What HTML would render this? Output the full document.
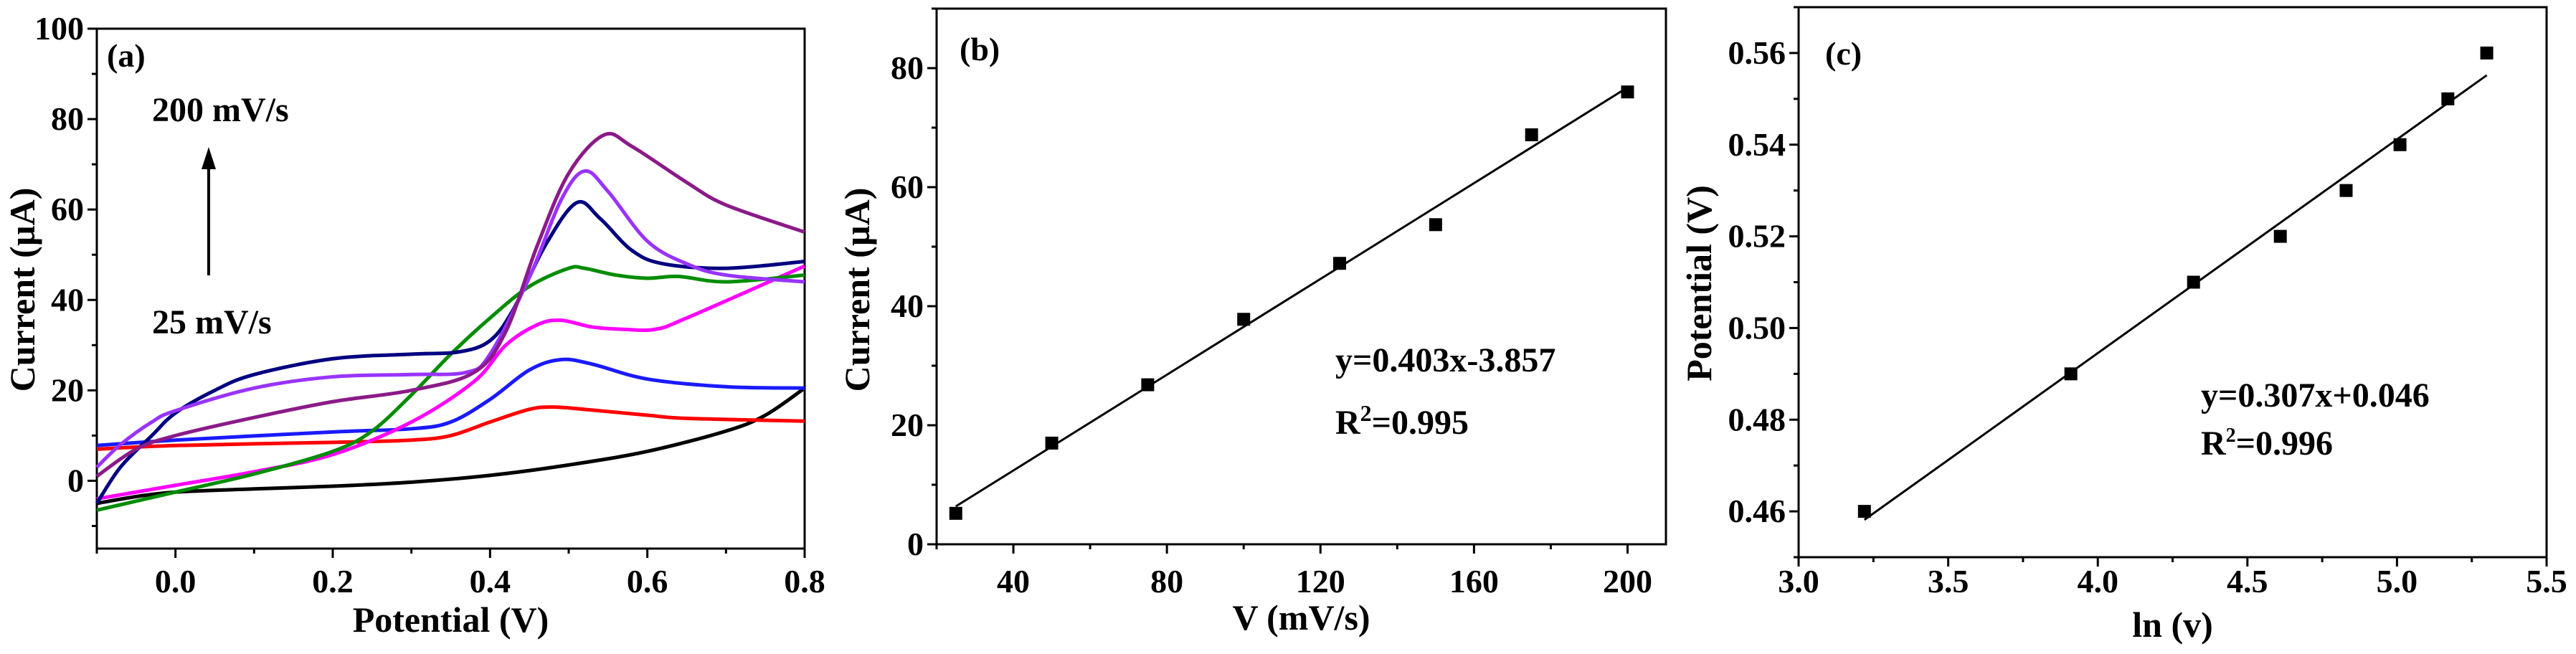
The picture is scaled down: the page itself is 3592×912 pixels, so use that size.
<!DOCTYPE html>
<html><head><meta charset="utf-8"><style>
html,body{margin:0;padding:0;background:#fff}
svg{display:block}
text{font-family:"Liberation Serif",serif;font-weight:bold;fill:#000}
</style></head><body>
<svg id="fig" width="3592" height="912" viewBox="0 0 3592 912" xmlns="http://www.w3.org/2000/svg"></svg>
<script>
// ---- Panel (a) data: cyclic voltammograms [potential V, current uA]
const cvBlack=[[-0.1,-5],[-0.05,-3.5],[0,-2.5],[0.1,-1.8],[0.2,-1.2],[0.3,-0.3],[0.4,1.2],[0.5,3.5],[0.6,6.5],[0.7,11],[0.75,14.5],[0.8,20.5]];
const cvRed=[[-0.1,7],[0,7.8],[0.2,8.5],[0.3,9],[0.35,10],[0.4,13],[0.45,15.8],[0.48,16.3],[0.52,15.8],[0.6,14.5],[0.65,13.8],[0.8,13.2]];
const cvBlue=[[-0.1,7.8],[0,9],[0.2,10.8],[0.3,11.5],[0.35,13],[0.4,18],[0.45,24.5],[0.49,26.8],[0.53,25.8],[0.6,22.5],[0.7,20.8],[0.8,20.5]];
const cvMagenta=[[-0.1,-4],[0,-1],[0.1,2],[0.2,5.8],[0.3,13],[0.38,22],[0.42,30],[0.46,34.5],[0.49,35.5],[0.53,34],[0.57,33.5],[0.61,33.5],[0.65,36],[0.8,47.5]];
const cvGreen=[[-0.1,-6.5],[0,-2.5],[0.1,1.5],[0.2,6.5],[0.25,11],[0.3,19],[0.35,28],[0.4,36],[0.45,43],[0.5,47],[0.52,47],[0.56,45.5],[0.6,44.8],[0.64,45.2],[0.7,44],[0.8,45.5]];
const cvNavy=[[-0.1,-5],[-0.07,3],[-0.03,10],[0,15],[0.05,20],[0.1,23.5],[0.2,27],[0.3,28],[0.36,28.5],[0.4,31],[0.43,38],[0.47,52],[0.51,61.5],[0.54,58],[0.58,51],[0.62,48],[0.7,47],[0.8,48.5]];
const cvViolet=[[-0.1,3],[-0.07,8],[-0.03,13],[0,15.5],[0.1,20.5],[0.2,23],[0.3,23.5],[0.37,24],[0.4,28],[0.45,45],[0.49,62],[0.52,68.5],[0.55,64],[0.6,53],[0.65,48],[0.7,45.5],[0.8,44]];
const cvPurple=[[-0.1,1],[-0.05,7],[0,10],[0.1,14],[0.2,17.5],[0.3,20],[0.38,24],[0.42,33],[0.46,52],[0.5,68],[0.545,76.5],[0.58,74],[0.65,66],[0.7,61],[0.8,55]];
const aXTicks=[0.0,0.2,0.4,0.6,0.8];
const aYTicks=[0,20,40,60,80,100];
// ---- Panel (b) data
const bScanRate=[25,50,75,100,125,150,175,200];
const bCurrent=[5.2,17,26.8,37.8,47.2,53.7,68.8,76];
const bXTicks=[40,80,120,160,200];
const bYTicks=[0,20,40,60,80];
// ---- Panel (c) data
const cLnV=[3.22,3.91,4.32,4.61,4.83,5.01,5.17,5.30];
const cPotential=[0.46,0.49,0.51,0.52,0.53,0.54,0.55,0.56];
const cXTicks=[3.0,3.5,4.0,4.5,5.0,5.5];
const cYTicks=[0.46,0.48,0.50,0.52,0.54,0.56];

const svg=document.getElementById('fig');
const NS='http://www.w3.org/2000/svg';
function mk(tag,attrs,parent){const e=document.createElementNS(NS,tag);for(const k in attrs)e.setAttribute(k,attrs[k]);(parent||svg).appendChild(e);return e;}
function txt(s,x,y,size,anchor,parent){const t=mk('text',{x:x,y:y,'font-size':size,'text-anchor':anchor||'start'},parent);t.textContent=s;return t;}
function scale(d0,d1,p0,p1){return v=>p0+(v-d0)*(p1-p0)/(d1-d0);}

function axes(name,L,R,T,B,X,Y,xt,yt,xMinor,yMinor,xMin,xMax,yMin,yMax,fmtX,fmtY){
  const g=mk('g',{});
  
  
  const fr=mk('rect',{x:L,y:T,width:R-L,height:B-T,fill:'none',stroke:'#000','stroke-width':3},g);
  
  
  for(let v=xMin;v<=xMax+1e-9;v+=xMinor){const x=X(v);const major=xt.some(t=>Math.abs(t-v)<1e-6);
    mk('line',{x1:x,y1:B,x2:x,y2:B+(major?13:7),stroke:'#000','stroke-width':3},g);}
  for(let v=yMin;v<=yMax+1e-9;v+=yMinor){const y=Y(v);const major=yt.some(t=>Math.abs(t-v)<1e-6);
    mk('line',{x1:L,y1:y,x2:L-(major?13:7),y2:y,stroke:'#000','stroke-width':3},g);}
  xt.forEach(v=>{const t=txt(fmtX(v),X(v),826,46,'middle',g);
    
    });
  yt.forEach(v=>{const t=txt(fmtY(v),L-18,Y(v)+15,46,'end',g);
    
    });
  return g;
}
function smooth(pts){let d='M'+pts[0][0]+','+pts[0][1];
  for(let i=0;i<pts.length-1;i++){const p0=pts[Math.max(0,i-1)],p1=pts[i],p2=pts[i+1],p3=pts[Math.min(pts.length-1,i+2)];
    const c1=[p1[0]+(p2[0]-p0[0])/6,p1[1]+(p2[1]-p0[1])/6],c2=[p2[0]-(p3[0]-p1[0])/6,p2[1]-(p3[1]-p1[1])/6];
    d+=' C'+c1[0]+','+c1[1]+' '+c2[0]+','+c2[1]+' '+p2[0]+','+p2[1];}
  return d;}
function fit(xs,ys){const n=xs.length;const mx=xs.reduce((a,b)=>a+b)/n,my=ys.reduce((a,b)=>a+b)/n;
  let sxy=0,sxx=0;for(let i=0;i<n;i++){sxy+=(xs[i]-mx)*(ys[i]-my);sxx+=(xs[i]-mx)**2;}const m=sxy/sxx;return [m,my-m*mx];}

// ===== Panel (a)
{const L=135,R=1122,T=40,B=765;const X=scale(-0.1,0.8,L,R),Y=scale(-15,100,B,T);
 axes('panel-a',L,R,T,B,X,Y,aXTicks,aYTicks,0.1,10,-0.1,0.8,-10,100,v=>v.toFixed(1),v=>String(v));
 const series=[[cvBlack,'#000000','cv-blank'],[cvRed,'#ff0000','cv-25'],[cvBlue,'#1a1aff','cv-50'],[cvMagenta,'#ff00ff','cv-75'],[cvGreen,'#008c00','cv-100'],[cvNavy,'#000080','cv-125'],[cvViolet,'#9933ff','cv-150'],[cvPurple,'#8b1a89','cv-200']];
 series.forEach(s=>{const p=mk('path',{d:smooth(s[0].map(q=>[X(q[0]),Y(q[1])])),fill:'none',stroke:s[1],'stroke-width':5});
   
   });
 let t=txt('(a)',149,93,46);
 t=txt('200 mV/s',212,169,48);
 t=txt('25 mV/s',212,465,48);
 let a=mk('line',{x1:291,y1:384,x2:291,y2:225,stroke:'#000','stroke-width':4});
 a=mk('polygon',{points:'291,205 281,236 301,236',fill:'#000'});
 t=txt('Potential (V)',(L+R)/2,881,50,'middle');
 t=txt('Current (µA)',0,0,50,'middle');t.setAttribute('transform','translate(48,404) rotate(-90)');
}
// ===== Panel (b)
{const L=1306,R=2323,T=12,B=759;const X=scale(20,210,L,R),Y=scale(0,90,B,T);
 axes('panel-b',L,R,T,B,X,Y,bXTicks,bYTicks,20,10,20,200,0,90,v=>String(v),v=>String(v));
 const [m,c]=fit(bScanRate,bCurrent);
 let l=mk('line',{x1:X(25),y1:Y(m*25+c),x2:X(200),y2:Y(m*200+c),stroke:'#000','stroke-width':3});
 bScanRate.forEach((v,i)=>{const r=mk('rect',{x:X(v)-9,y:Y(bCurrent[i])-9,width:18,height:18,fill:'#000'});
   
   });
 let t=txt('(b)',1338,84,46);
 t=txt('y=0.403x-3.857',1862,518,48);
 t=mk('text',{x:1862,y:605,'font-size':48});t.innerHTML='R<tspan dy="-18" font-size="32">2</tspan><tspan dy="18">=0.995</tspan>';
 t=txt('V (mV/s)',(L+R)/2,878,50,'middle');
 t=txt('Current (µA)',0,0,50,'middle');t.setAttribute('transform','translate(1212,404) rotate(-90)');
}
// ===== Panel (c)
{const L=2508,R=3551,T=10,B=777;const X=scale(3.0,5.5,L,R),Y=scale(0.45,0.57,B,T);
 axes('panel-c',L,R,T,B,X,Y,cXTicks,cYTicks,0.25,0.01,3.0,5.5,0.45,0.57,v=>v.toFixed(1),v=>v.toFixed(2));
 const [m,c]=fit(cLnV,cPotential);const x0=cLnV[0],x1=cLnV[cLnV.length-1];
 let l=mk('line',{x1:X(x0),y1:Y(m*x0+c),x2:X(x1),y2:Y(m*x1+c),stroke:'#000','stroke-width':3});
 cLnV.forEach((v,i)=>{const r=mk('rect',{x:X(v)-9,y:Y(cPotential[i])-9,width:18,height:18,fill:'#000'});
   
   });
 let t=txt('(c)',2545,90,46);
 t=txt('y=0.307x+0.046',3069,567,48);
 t=mk('text',{x:3069,y:634,'font-size':48});t.innerHTML='R<tspan dy="-18" font-size="28">2</tspan><tspan dy="18">=0.996</tspan>';
 t=txt('ln (v)',(L+R)/2,888,50,'middle');
 t=txt('Potential (V)',0,0,50,'middle');t.setAttribute('transform','translate(2386,395) rotate(-90)');
}
</script>
</body></html>
